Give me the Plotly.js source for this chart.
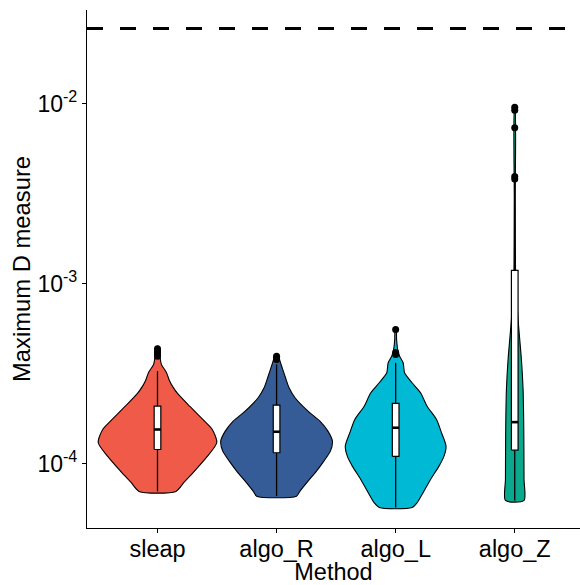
<!DOCTYPE html>
<html>
<head>
<meta charset="utf-8">
<script src="https://cdn.plot.ly/plotly-3.0.1.min.js"></script>
<style>html,body{margin:0;padding:0;background:#fff;}#chart{width:580px;height:585px;}</style>
</head>
<body>
<div id="chart"></div>
<script>
// ---- Data ----
const categories = ['sleap', 'algo_R', 'algo_L', 'algo_Z'];
const fillColors = ['#F05A48', '#355C96', '#00B9D4', '#0AA88C'];

// violin outline: density levels (y values) and half widths (category units)
const sleapLevels = [7.02e-5, 7.87e-5, 8.95e-5, 1.098e-4, 1.313e-4, 1.551e-4, 1.696e-4, 2.081e-4, 2.45e-4, 2.7e-4, 2.9e-4, 3.215e-4, 3.561e-4, 4.047e-4, 4.484e-4];
const sleapHalfWidths = [0.155, 0.222, 0.301, 0.418, 0.498, 0.46, 0.406, 0.272, 0.17, 0.125, 0.1, 0.075, 0.033, 0.018, 0.006];

const algoRLevels = [6.607e-5, 7.045e-5, 8.0e-5, 9.097e-5, 1.034e-4, 1.175e-4, 1.335e-4, 1.518e-4, 1.725e-4, 1.96e-4, 2.326e-4, 2.644e-4, 3.004e-4, 3.561e-4, 4.047e-4];
const algoRHalfWidths = [0.167, 0.197, 0.264, 0.335, 0.397, 0.452, 0.469, 0.431, 0.364, 0.264, 0.155, 0.105, 0.075, 0.038, 0.008];

const algoLLevels = [5.717e-5, 6.07e-5, 6.9e-5, 8.18e-5, 9.7e-5, 1.102e-4, 1.252e-4, 1.487e-4, 1.762e-4, 2.089e-4, 2.479e-4, 2.818e-4, 3.2e-4, 3.64e-4, 3.96e-4, 4.315e-4, 4.9e-4, 5.57e-4];
const algoLHalfWidths = [0.138, 0.18, 0.23, 0.293, 0.364, 0.406, 0.423, 0.385, 0.343, 0.264, 0.209, 0.138, 0.075, 0.063, 0.033, 0.017, 0.008, 0.004];

const algoZLevels = [6.253e-5, 8.18e-5, 1.2e-4, 1.762e-4, 2.587e-4, 3.797e-4, 4.9e-4, 6.33e-4, 8.18e-4, 1.057e-3, 2.94e-3, 9.4e-3];
const algoZHalfWidths = [0.078, 0.078, 0.077, 0.075, 0.07, 0.056, 0.042, 0.028, 0.017, 0.008, 0.004, 0.002];

// box statistics
const q1Values = [1.2e-4, 1.151e-4, 1.098e-4, 1.19e-4];
const medianValues = [1.55e-4, 1.506e-4, 1.585e-4, 1.703e-4];
const q3Values = [2.09e-4, 2.117e-4, 2.163e-4, 1.186e-3];
const lowerWhiskers = [7.02e-5, 6.607e-5, 5.717e-5, 6.253e-5];
const upperWhiskers = [3.27e-4, 3.561e-4, 3.64e-4, 3.8e-3];

// outlying points
const sleapOutliers = [4.35e-4, 4.25e-4, 4.15e-4, 4.05e-4, 3.95e-4];
const algoROutliers = [3.95e-4, 3.88e-4, 3.8e-4];
const algoLOutliers = [5.57e-4, 4.15e-4, 4.05e-4];
const algoZOutliers = [9.55e-3, 9.2e-3, 7.36e-3, 3.95e-3, 3.82e-3];

const thresholdValue = 0.0262;
const yTickValues = [1e-4, 1e-3, 1e-2];
const yTickLabels = ['10<sup>-4</sup>', '10<sup>-3</sup>', '10<sup>-2</sup>'];

// ---- Build traces ----
const levelsList = [sleapLevels, algoRLevels, algoLLevels, algoZLevels];
const widthsList = [sleapHalfWidths, algoRHalfWidths, algoLHalfWidths, algoZHalfWidths];
const outliersList = [sleapOutliers, algoROutliers, algoLOutliers, algoZOutliers];
const boxWidth = 0.056;

const traces = [];
categories.forEach((cat, i) => {
  const lv = levelsList[i], hw = widthsList[i];
  const xs = [], ys = [];
  for (let k = 0; k < lv.length; k++) { xs.push(i + hw[k]); ys.push(lv[k]); }
  for (let k = lv.length - 1; k >= 0; k--) { xs.push(i - hw[k]); ys.push(lv[k]); }
  xs.push(xs[0]); ys.push(ys[0]);
  traces.push({
    type: 'scatter', mode: 'lines', x: xs, y: ys,
    fill: 'toself', fillcolor: fillColors[i],
    line: {color: '#000', width: 1.1, shape: 'spline', smoothing: 0.7},
    hoverinfo: 'skip', name: cat
  });
});
categories.forEach((cat, i) => {
  const l = i - boxWidth / 2, r = i + boxWidth / 2;
  // whiskers
  traces.push({
    type: 'scatter', mode: 'lines',
    x: [i, i, null, i, i], y: [q3Values[i], upperWhiskers[i], null, lowerWhiskers[i], q1Values[i]],
    line: {color: '#000', width: 1.3}, hoverinfo: 'skip'
  });
  // box
  traces.push({
    type: 'scatter', mode: 'lines',
    x: [l, r, r, l, l], y: [q1Values[i], q1Values[i], q3Values[i], q3Values[i], q1Values[i]],
    fill: 'toself', fillcolor: '#ffffff',
    line: {color: '#000', width: 1.2}, hoverinfo: 'skip'
  });
  // median
  traces.push({
    type: 'scatter', mode: 'lines',
    x: [l, r], y: [medianValues[i], medianValues[i]],
    line: {color: '#000', width: 2.6}, hoverinfo: 'skip'
  });
  // outliers
  traces.push({
    type: 'scatter', mode: 'markers',
    x: outliersList[i].map(() => i), y: outliersList[i],
    marker: {color: '#000', size: 7}, hoverinfo: 'skip'
  });
});

const fontFamily = 'Liberation Sans, Arial, sans-serif';
const layout = {
  width: 580, height: 585,
  margin: {l: 87, r: 0, t: 10, b: 57},
  paper_bgcolor: '#fff', plot_bgcolor: '#fff',
  showlegend: false,
  font: {family: fontFamily, color: '#000'},
  xaxis: {
    range: [-0.592, 3.548], tickvals: [0, 1, 2, 3], ticktext: categories,
    showline: true, linecolor: '#000', linewidth: 1.1,
    ticks: 'outside', ticklen: 4, tickwidth: 1.1, tickcolor: '#000',
    showgrid: false, zeroline: false, ticklabelstandoff: -4,
    tickfont: {family: fontFamily, size: 23.5, color: '#000'},
    title: {text: 'Method', font: {family: fontFamily, size: 23.5, color: '#000'}, standoff: 4}
  },
  yaxis: {
    type: 'log', range: [-4.357, -1.479],
    tickvals: yTickValues, ticktext: yTickLabels,
    showline: true, linecolor: '#000', linewidth: 1.1,
    ticks: 'outside', ticklen: 4, tickwidth: 1.1, tickcolor: '#000',
    showgrid: false, zeroline: false,
    tickfont: {family: fontFamily, size: 23, color: '#000'},
    title: {text: 'Maximum D measure', font: {family: fontFamily, size: 23.8, color: '#000'}, standoff: 0}
  },
  shapes: [{
    type: 'line', xref: 'paper', x0: 0, x1: 1, yref: 'y', y0: thresholdValue, y1: thresholdValue,
    line: {color: '#000', width: 3, dash: '16px,17px'}
  }]
};

Plotly.newPlot('chart', traces, layout, {displayModeBar: false, staticPlot: true});
</script>
</body>
</html>
